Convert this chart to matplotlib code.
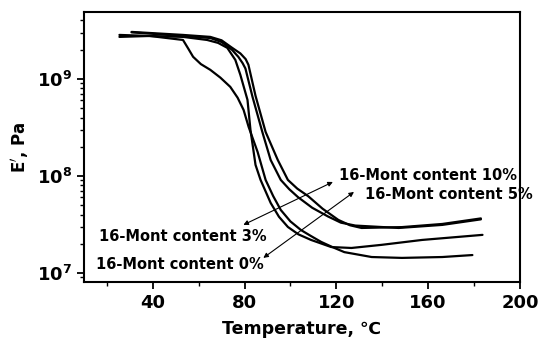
import numpy as np
import matplotlib
matplotlib.use("Agg")
import matplotlib.pyplot as plt

plt.rcParams['font.family'] = ['DejaVu Sans', 'Noto Sans CJK SC']
plt.rcParams['font.weight'] = 'bold'
plt.rcParams['mathtext.fontset'] = 'dejavusans'
plt.rcParams['mathtext.default'] = 'bf'

# storage modulus E' (Pa) vs temperature (C)
t_0 = [25.5, 38.7, 53.2, 55.5, 57.6, 61.0, 65.1, 69.5, 73.8, 77.0, 79.6, 81.8,
       85.7, 89.2, 92.5, 95.8, 100.0, 104.6, 109.0, 113.4, 118.5, 123.5, 135.4,
       148.6, 166.2, 179.3]
e_0 = [2.71e9, 2.77e9, 2.52e9, 2.05e9, 1.69e9, 1.42e9, 1.24e9, 1.03e9, 8.28e8,
       6.40e8, 4.79e8, 3.20e8, 1.77e8, 9.10e7, 6.20e7, 4.46e7, 3.40e7, 2.77e7,
       2.40e7, 2.09e7, 1.84e7, 1.64e7, 1.46e7, 1.43e7, 1.46e7, 1.53e7]

t_3 = [25.5, 38.7, 53.2, 63.7, 68.5, 72.5, 76.0, 78.2, 81.3, 82.6, 84.8, 87.0,
       91.4, 95.0, 98.9, 103.5, 109.0, 117.8, 126.6, 139.8, 157.4, 183.7]
e_3 = [2.84e9, 2.77e9, 2.71e9, 2.52e9, 2.35e9, 2.09e9, 1.57e9, 1.10e9, 6.08e8,
       2.98e8, 1.30e8, 9.10e7, 5.27e7, 3.80e7, 2.98e7, 2.50e7, 2.19e7, 1.85e7,
       1.81e7, 1.95e7, 2.19e7, 2.47e7]

t_5 = [30.8, 53.2, 65.1, 70.0, 74.5, 77.3, 79.2, 80.4, 83.5, 87.9, 91.4, 95.8,
       99.5, 103.3, 109.5, 116.4, 122.0, 128.3, 147.2, 166.2, 183.0]
e_5 = [3.02e9, 2.77e9, 2.64e9, 2.40e9, 2.00e9, 1.69e9, 1.45e9, 1.28e9, 6.52e8,
       2.77e8, 1.46e8, 9.10e7, 7.30e7, 6.05e7, 4.70e7, 3.82e7, 3.30e7, 3.08e7,
       2.91e7, 3.13e7, 3.57e7]

t_10 = [30.8, 53.2, 65.1, 70.0, 74.5, 78.2, 80.5, 81.7, 84.8, 89.2, 94.5, 98.9,
        103.0, 107.7, 114.0, 120.9, 126.0, 131.0, 148.6, 166.2, 183.0]
e_10 = [3.05e9, 2.84e9, 2.71e9, 2.50e9, 2.10e9, 1.83e9, 1.60e9, 1.40e9,
        6.70e8, 2.84e8, 1.46e8, 9.10e7, 7.40e7, 6.20e7, 4.60e7, 3.52e7,
        3.10e7, 2.91e7, 2.97e7, 3.20e7, 3.65e7]

labels = ["16-Mont content 10%", "16-Mont content 5%",
          "16-Mont content 3%", "16-Mont content 0%"]

fig = plt.figure(figsize=(5.41, 3.51), dpi=100)
ax = fig.add_axes([0.155, 0.197, 0.806, 0.769])

for t, e in [(t_0, e_0), (t_3, e_3), (t_5, e_5), (t_10, e_10)]:
    ax.plot(t, e, color='k', lw=1.6, solid_capstyle='round',
            solid_joinstyle='round')

ax.set_yscale('log')
ax.set_xlim(10, 200)
ax.set_ylim(8.1e6, 4.9e9)
ax.set_xticks([40, 80, 120, 160, 200])
ax.set_xticks([20, 60, 100, 140, 180], minor=True)
ax.tick_params(axis='both', which='major', direction='out', length=5, width=1.3,
               labelsize=13)
ax.tick_params(axis='both', which='minor', direction='out', length=3, width=1.0)
for s in ax.spines.values():
    s.set_linewidth(1.5)

ax.set_xlabel("Temperature, \u2103", fontsize=12.5, fontweight='bold', labelpad=6)
ax.set_ylabel("E$^{\\prime}$, Pa", fontsize=12, fontweight='bold', labelpad=4)

# labels and their arrows
ax.text(121.3, 1.0e8, labels[0], fontsize=10.5, va='center')
ax.text(132.7, 6.37e7, labels[1], fontsize=10.5, va='center')
ax.text(16.7, 2.35e7, labels[2], fontsize=10.5, va='center')
ax.text(15.4, 1.21e7, labels[3], fontsize=10.5, va='center')
arr = dict(arrowstyle='<|-|>', lw=0.8, color='k', mutation_scale=7,
           shrinkA=0, shrinkB=0)
ax.annotate("", xy=(79.5, 3.13e7), xytext=(118.5, 8.67e7), arrowprops=arr)
ax.annotate("", xy=(88.2, 1.43e7), xytext=(127.7, 6.84e7), arrowprops=arr)

fig.savefig("out.png", dpi=100)
